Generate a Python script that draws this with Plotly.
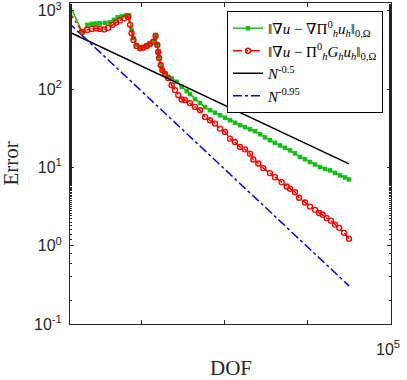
import plotly.graph_objects as go

# error of the two gradient recoveries versus number of degrees of freedom
dof_grad = [13, 19, 22, 25, 28, 31, 36, 41, 46, 51, 57, 64, 70,
            75, 79, 86, 95, 104, 114, 125, 137, 146,
            153, 157, 161, 168, 176, 189, 207,
            228, 262, 301, 346,
            378, 435, 500, 574, 659, 758, 871, 1000, 1148, 1318, 1517, 1742, 2000,
            2296, 2641, 3033, 3483, 4001, 4599, 5284, 6067, 6966, 8017, 9205,
            10570, 12140, 13950, 16020, 18410, 21150, 24300, 27910, 31190]
err_grad = [1277, 543, 662, 681, 688, 692, 702, 712, 767, 826, 850, 875, 881,
            571, 451, 366, 336, 340, 356, 378, 412, 492,
            366, 301, 250, 203, 175, 159, 144,
            137, 124, 107, 94.2,
            86.3, 74.4, 66.2, 58.8, 53.8, 50.0, 46.4, 43.1, 40.1, 37.2, 34.6, 32.6, 30.7,
            29.0, 26.5, 24.2, 22.2, 20.6, 19.1, 17.8, 16.5, 15.1, 13.6, 12.7,
            11.7, 10.9, 10.1, 9.57, 9.16, 8.50, 7.89, 7.44, 7.02]

dof_rec = [13, 19, 22, 25, 28, 31, 35, 39, 44, 49, 54, 61, 68,
           72, 75, 79, 86, 95, 104, 114, 125, 137, 146,
           153, 157, 161, 168, 176, 189, 207,
           228, 250, 274, 301, 330,
           378, 435, 500, 574, 659, 758, 871, 1000, 1148, 1318, 1517, 1742, 2000,
           2193, 2518, 2893, 3483, 4001, 4819, 5539, 6067, 6966, 7798, 9205,
           10570, 12140, 13580, 15030, 16790, 18920, 21150, 23830, 27150, 31190]
err_rec = [1009, 538, 571, 588, 597, 588, 579, 605, 662, 712, 755, 801, 838,
           662, 518, 425, 356, 332, 338, 356, 378, 404, 478,
           366, 298, 250, 203, 175, 156, 138,
           112, 97.1, 83.8, 73.8, 72.3,
           66.2, 59.3, 53.8, 44.2, 40.1, 36.3, 31.3, 28.4, 23.3, 21.1, 18.2, 17.0, 15.0,
           12.6, 11.2, 9.80, 8.45, 7.51, 6.48, 5.71, 5.33, 4.82, 4.09, 3.56,
           3.16, 2.87, 2.62, 2.48, 2.25, 2.09, 1.86, 1.69, 1.46, 1.23]

# reference slopes, end points only
ref_dof = [13, 31190]
ref_half = [543, 11.1]
ref_095 = [708, 0.307]

green = 'rgb(20,190,20)'
red = 'rgb(255,0,0)'

fig = go.Figure()
fig.add_trace(go.Scatter(
    x=dof_grad, y=err_grad, mode='lines+markers',
    line=dict(color=green, width=1.5),
    marker=dict(symbol='square', size=4.5, color=green),
    name='‖∇<i>u</i> − ∇Π<sup>0</sup><sub><i>h</i></sub><i>u<sub>h</sub></i>‖<sub>0,Ω</sub>'
))
fig.add_trace(go.Scatter(
    x=dof_rec, y=err_rec, mode='lines+markers',
    line=dict(color=red, width=1.5, dash='dashdot'),
    marker=dict(symbol='circle-open', size=5, color=red, line=dict(width=1.4)),
    name='‖∇<i>u</i> − Π<sup>0</sup><sub><i>h</i></sub><i>G<sub>h</sub>u<sub>h</sub></i>‖<sub>0,Ω</sub>'
))
fig.add_trace(go.Scatter(
    x=ref_dof, y=ref_half, mode='lines',
    line=dict(color='black', width=1.5),
    name='<i>N</i><sup>-0.5</sup>'
))
fig.add_trace(go.Scatter(
    x=ref_dof, y=ref_095, mode='lines',
    line=dict(color='rgb(0,0,255)', width=1.5, dash='dashdot'),
    name='<i>N</i><sup>-0.95</sup>'
))

axis_common = dict(
    showline=True, linecolor='#262626', linewidth=1, mirror='ticks',
    ticks='inside', ticklen=4, tickcolor='#262626', showgrid=False, zeroline=False,
    automargin=False,
    tickfont=dict(family='Liberation Sans, Arial', size=16, color='#262626')
)

fig.update_xaxes(
    type='log', range=[1.133, 5],
    tickvals=[100, 1000, 10000, 100000], showticklabels=False,
    **axis_common
)
fig.update_yaxes(
    type='log', range=[-1, 3.1],
    tickvals=[0.1, 1, 10, 100, 1000],
    ticktext=['10<sup>-1</sup>', '10<sup>0</sup>', '10<sup>1</sup>', '10<sup>2</sup>', '10<sup>3</sup>'],
    ticklabelstandoff=4, ticklabeloverflow='allow',
    minor=dict(ticks='inside', ticklen=2, tickcolor='#262626', showgrid=False),
    **axis_common
)

fig.add_annotation(x=5, y=0, xref='x', yref='paper', text='10<sup>5</sup>', showarrow=False,
                   xanchor='center', yanchor='middle', xshift=-3, yshift=-24,
                   font=dict(family='Liberation Sans, Arial', size=16, color='#262626'))
fig.add_annotation(x=0.5, y=0, xref='paper', yref='paper', text='DOF', showarrow=False,
                   xanchor='center', yanchor='middle', yshift=-44,
                   font=dict(family='Liberation Serif, DejaVu Serif', size=21, color='#262626'))
fig.add_annotation(x=0, y=0.5, xref='paper', yref='paper', text='Error', showarrow=False,
                   textangle=-90, xanchor='center', yanchor='middle', xshift=-60,
                   font=dict(family='Liberation Serif, DejaVu Serif', size=21, color='#262626'))

fig.update_layout(
    width=407, height=380,
    margin=dict(l=70, r=16, t=3, b=56, autoexpand=False),
    plot_bgcolor='white', paper_bgcolor='white',
    showlegend=True,
    legend=dict(
        x=0.975, y=0.975, xanchor='right', yanchor='top',
        bgcolor='white', bordercolor='black', borderwidth=1,
        font=dict(family='Liberation Serif, DejaVu Serif', size=15, color='black'),
        tracegroupgap=0, itemwidth=30
    )
)

fig.write_html("out.html", config={'displayModeBar': False},
               post_script="document.body.style.margin='0';")
